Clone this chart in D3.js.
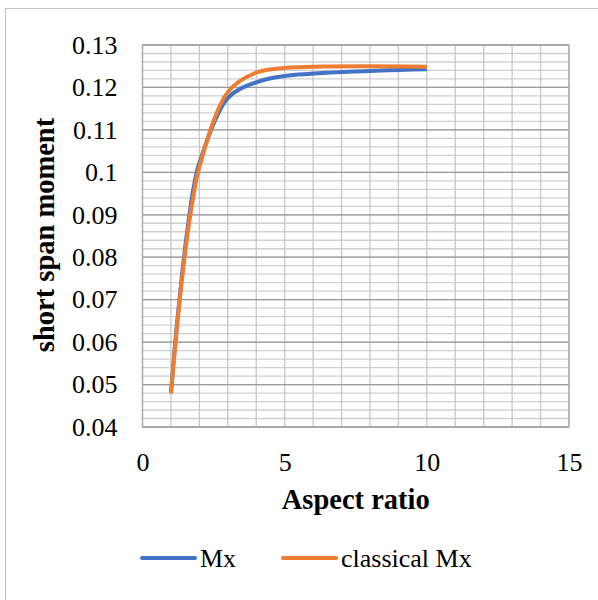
<!DOCTYPE html>
<html>
<head>
<meta charset="utf-8">
<script src="https://cdn.jsdelivr.net/npm/d3@7"></script>
<style>
  body { margin: 0; background: #fff; }
  text { font-family: "Liberation Serif", "DejaVu Serif", serif; fill: #000; }
</style>
</head>
<body>
<script>
// aspect ratio (x) and short span moment coefficients (y)
const mxRatio = [1, 1.2, 1.4, 1.6, 1.8, 2, 3, 4, 5, 10];
const mxValues = [0.048, 0.0635, 0.0765, 0.0875, 0.0965, 0.1022, 0.1175, 0.1212, 0.1227, 0.1243];

const classicalRatio = [1, 1.2, 1.4, 1.6, 1.8, 2, 3, 4, 5, 10];
const classicalValues = [0.0479, 0.0627, 0.0755, 0.0862, 0.0948, 0.1013, 0.1189, 0.1235, 0.1246, 0.1249];

const xTicks = [0, 5, 10, 15];
const yTicks = [0.04, 0.05, 0.06, 0.07, 0.08, 0.09, 0.1, 0.11, 0.12, 0.13];

const seriesNames = ["Mx", "classical Mx"];
const colors = ["#4472c4", "#ed7d31"];

const width = 598;
const height = 600;
const plot = { left: 142.5, right: 569, top: 45, bottom: 427 };

const svg = d3
  .select("body")
  .append("svg")
  .attr("width", width)
  .attr("height", height);

// chart border (runs off the right and bottom edge)
svg
  .append("rect")
  .attr("x", 5.5)
  .attr("y", 8.5)
  .attr("width", 620)
  .attr("height", 620)
  .attr("fill", "none")
  .attr("stroke", "#c0c0c0");

const x = d3.scaleLinear().domain([0, 15]).range([plot.left, plot.right]);
const y = d3.scaleLinear().domain([0.04, 0.13]).range([plot.bottom, plot.top]);

// minor horizontal gridlines every 0.002
const minorY = d3.range(0, 46).map((i) => 0.04 + i * 0.002);
svg
  .append("g")
  .selectAll("line")
  .data(minorY)
  .enter()
  .append("line")
  .attr("x1", plot.left)
  .attr("x2", plot.right)
  .attr("y1", (d) => y(d))
  .attr("y2", (d) => y(d))
  .attr("stroke", "#d0d0d0")
  .attr("stroke-width", 1.3);

// vertical gridlines every 1
svg
  .append("g")
  .selectAll("line")
  .data(d3.range(0, 16))
  .enter()
  .append("line")
  .attr("x1", (d) => x(d))
  .attr("x2", (d) => x(d))
  .attr("y1", plot.top)
  .attr("y2", plot.bottom)
  .attr("stroke", "#c8c8c8")
  .attr("stroke-width", 1.3);

// major horizontal gridlines
svg
  .append("g")
  .selectAll("line")
  .data(yTicks)
  .enter()
  .append("line")
  .attr("x1", plot.left)
  .attr("x2", plot.right)
  .attr("y1", (d) => y(d))
  .attr("y2", (d) => y(d))
  .attr("stroke", "#9a9a9a")
  .attr("stroke-width", 1.3);

// plot frame
svg
  .append("rect")
  .attr("x", plot.left)
  .attr("y", plot.top)
  .attr("width", plot.right - plot.left)
  .attr("height", plot.bottom - plot.top)
  .attr("fill", "none")
  .attr("stroke", "#a8a8a8")
  .attr("stroke-width", 1.3);

// axes (labels only, Excel style)
const yAxis = svg
  .append("g")
  .attr("transform", `translate(${plot.left},0)`)
  .call(d3.axisLeft(y).tickValues(yTicks).tickSize(0).tickPadding(25).tickFormat(d3.format("")));
const xAxis = svg
  .append("g")
  .attr("transform", `translate(0,${plot.bottom})`)
  .call(d3.axisBottom(x).tickValues(xTicks).tickSize(0).tickPadding(26));
[yAxis, xAxis].forEach((a) => {
  a.select(".domain").remove();
  a.selectAll("text").attr("font-size", 26).attr("font-family", null);
});

// lines
const series = [
  { name: seriesNames[0], xs: mxRatio, ys: mxValues, color: colors[0] },
  { name: seriesNames[1], xs: classicalRatio, ys: classicalValues, color: colors[1] },
];
const line = d3
  .line()
  .x((d) => x(d[0]))
  .y((d) => y(d[1]))
  .curve(d3.curveCatmullRom.alpha(0.5));

svg
  .append("g")
  .selectAll("path")
  .data(series)
  .enter()
  .append("path")
  .attr("d", (s) => line(d3.zip(s.xs, s.ys)))
  .attr("fill", "none")
  .attr("stroke", (s) => s.color)
  .attr("stroke-width", 4)
  .attr("stroke-linejoin", "round");

// axis titles
svg
  .append("text")
  .attr("x", (plot.left + plot.right) / 2)
  .attr("y", 509)
  .attr("text-anchor", "middle")
  .attr("font-weight", "bold")
  .attr("font-size", 28.5)
  .text("Aspect ratio");

svg
  .append("text")
  .attr("transform", "translate(54,235) rotate(-90)")
  .attr("text-anchor", "middle")
  .attr("font-weight", "bold")
  .attr("font-size", 28.5)
  .text("short span moment");

// legend
const legendX = [142, 283];
const legend = svg
  .append("g")
  .selectAll("g")
  .data(series)
  .enter()
  .append("g")
  .attr("transform", (d, i) => `translate(${legendX[i]},558)`);
legend
  .append("line")
  .attr("x1", 0)
  .attr("x2", 53)
  .attr("stroke", (d) => d.color)
  .attr("stroke-width", 4)
  .attr("stroke-linecap", "round");
legend
  .append("text")
  .attr("x", 58)
  .attr("y", 9)
  .attr("font-size", 26)
  .text((d) => d.name);
</script>
</body>
</html>
